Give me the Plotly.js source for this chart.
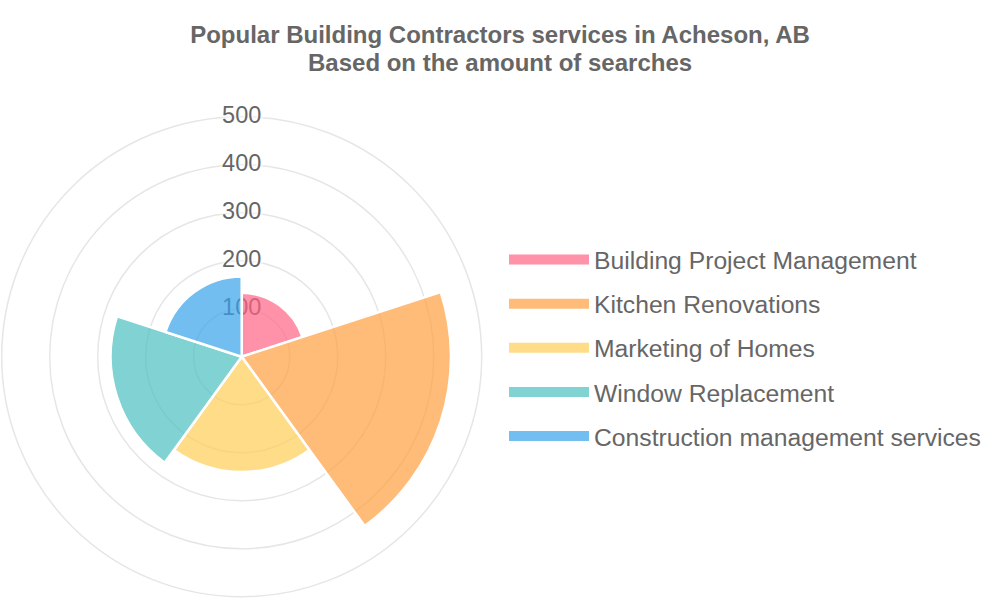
<!DOCTYPE html>
<html>
<head>
<meta charset="utf-8">
<script src="https://cdn.plot.ly/plotly-3.0.1.min.js"></script>
<style>html,body{margin:0;padding:0;background:#fff;}#chart{width:1000px;height:600px;}</style>
</head>
<body>
<div id="chart"></div>
<script>
const categories = ["Building Project Management", "Kitchen Renovations", "Marketing of Homes", "Window Replacement", "Construction management services"];
const searches = [133, 436, 240, 273, 167];
const colors = ["rgba(255,99,132,0.7)", "rgba(255,159,64,0.7)", "rgba(255,205,86,0.7)", "rgba(75,192,192,0.7)", "rgba(54,162,235,0.7)"];
const tickValues = [100, 200, 300, 400, 500];
const tickLabels = ["100", "200", "300", "400", "500"];
const titleLine1 = "Popular Building Contractors services in Acheson, AB";
const titleLine2 = "Based on the amount of searches";

const sector = 360 / categories.length;
const FONT = "'Liberation Sans', Arial, sans-serif";
const BACKDROP = "0 0 2px #fff, 0 0 3px #fff, 0 0 4px #fff, 0 0 5px #fff";

// scale labels live in the lower subplot, so the translucent segments cover them
const data = [{
  type: "scatterpolar",
  subplot: "polar",
  mode: "text",
  r: tickValues,
  theta: tickValues.map(() => 0),
  text: tickLabels,
  textposition: "middle center",
  textfont: {family: FONT, size: 23.5, color: "#666666", shadow: BACKDROP},
  showlegend: false,
  hoverinfo: "skip"
}];

categories.forEach((c, i) => {
  data.push({
    type: "barpolar",
    subplot: "polar2",
    name: c,
    r: [searches[i]],
    theta: [i * sector + sector / 2],
    width: [sector],
    marker: {color: colors[i], line: {color: "#ffffff", width: 2.5}},
    legendgroup: "g" + i,
    showlegend: false,
    hovertemplate: c + ": %{r}<extra></extra>"
  });
});

// legend swatches (wide colour boxes) as empty line traces of the same series
categories.forEach((c, i) => {
  data.push({
    type: "scatterpolar",
    subplot: "polar2",
    mode: "lines",
    name: c,
    r: [null],
    theta: [null],
    line: {color: colors[i], width: 20},
    legendgroup: "g" + i,
    showlegend: true,
    hoverinfo: "skip"
  });
});

const DOMAIN = {x: [0.0017, 0.4817], y: [0.0055, 0.8055]};
const hiddenAngular = {
  type: "linear", direction: "clockwise", rotation: 90,
  showgrid: false, showticklabels: false, ticks: "", showline: false
};

const layout = {
  width: 1000, height: 600,
  margin: {l: 0, r: 0, t: 0, b: 0},
  paper_bgcolor: "#ffffff",
  font: {family: FONT, color: "#666666"},
  title: {
    text: titleLine1,
    font: {family: FONT, size: 24, color: "#666666", weight: "bold"},
    x: 0.5, xanchor: "center", y: 1 - 35 / 600, yanchor: "middle", yref: "container"
  },
  annotations: [{
    text: titleLine2,
    xref: "paper", yref: "paper",
    x: 0.5, xanchor: "center", y: 1 - 63 / 600, yanchor: "middle",
    showarrow: false,
    font: {family: FONT, size: 24, color: "#666666", weight: "bold"}
  }],
  polar: {
    domain: DOMAIN,
    bgcolor: "rgba(0,0,0,0)",
    radialaxis: {
      range: [0, 500],
      tickvals: tickValues,
      showticklabels: false,
      ticks: "",
      showline: false,
      gridcolor: "#e6e6e6",
      gridwidth: 1.5,
      layer: "below traces"
    },
    angularaxis: Object.assign({}, hiddenAngular, {
      showline: true,
      linecolor: "#e6e6e6",
      linewidth: 1.5,
      layer: "below traces"
    })
  },
  polar2: {
    domain: DOMAIN,
    bgcolor: "rgba(0,0,0,0)",
    radialaxis: {
      range: [0, 500],
      showgrid: false,
      showticklabels: false,
      ticks: "",
      showline: false
    },
    angularaxis: hiddenAngular
  },
  showlegend: true,
  legend: {
    x: 0.504, xanchor: "left",
    y: 0.42, yanchor: "middle",
    traceorder: "grouped",
    tracegroupgap: 9,
    itemwidth: 80,
    font: {family: FONT, size: 24.7, color: "#666666"},
    bgcolor: "rgba(0,0,0,0)"
  }
};

Plotly.newPlot("chart", data, layout, {displayModeBar: false, staticPlot: true});
</script>
</body>
</html>
